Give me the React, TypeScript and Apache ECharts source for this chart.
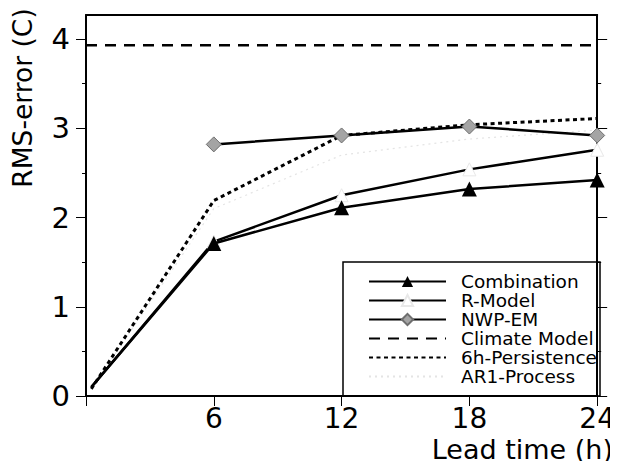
import React, { useEffect, useRef } from "react";
import * as echarts from "echarts";

const leads = [0.25, 6, 12, 18, 24];
const combination = [0.1, 1.71, 2.11, 2.32, 2.42];
const rModel = [0.1, 1.73, 2.25, 2.54, 2.76];
const nwpEm = [null, 2.82, 2.92, 3.02, 2.92];
const climateLeads = [0, 24];
const climate = [3.93, 3.93];
const persistence = [0.08, 2.19, 2.92, 3.04, 3.11];
const ar1 = [0.08, 2.1, 2.7, 2.88, 2.98];
const xLabels = [6, 12, 18, 24];
const yTicks = [0, 1, 2, 3, 4];
const seriesNames = ["Combination", "R-Model", "NWP-EM", "Climate Model", "6h-Persistence", "AR1-Process"];
const noSymbolInLegend = ["Climate Model", "6h-Persistence", "AR1-Process"];

const FONT = "DejaVu Sans, Liberation Sans, Arial, sans-serif";

function pairs(xs: number[], ys: (number | null)[], markedFrom = 0) {
  return xs.map((x, i) =>
    i < markedFrom ? { value: [x, ys[i]], symbol: "none" } : { value: [x, ys[i]] }
  );
}

export default function App() {
  const ref = useRef<HTMLDivElement>(null);
  useEffect(() => {
    if (!ref.current) return;
    const chart = echarts.init(ref.current, null, { renderer: "svg" });
    const yMax = 4.27;
    const base = {
      type: "line",
      xAxisIndex: 0,
      yAxisIndex: 0,
      clip: true,
      connectNulls: false,
    };
    chart.setOption({
      animation: false,
      backgroundColor: "#ffffff",
      grid: { left: 86, right: 18, top: 15, bottom: 73, containLabel: false },
      xAxis: [
        {
          type: "value",
          min: 0,
          max: 24,
          interval: 6,
          axisLine: { show: true, onZero: false, lineStyle: { color: "#000", width: 2 } },
          axisTick: { show: true, length: 10, inside: false, lineStyle: { color: "#000", width: 1 } },
          axisLabel: {
            customValues: xLabels,
            color: "#000",
            fontSize: 28,
            fontFamily: FONT,
            margin: 8,
          },
          splitLine: { show: false },
        },
        {
          type: "value",
          position: "top",
          min: 0,
          max: 24,
          interval: 6,
          axisLine: { show: true, onZero: false, lineStyle: { color: "#000", width: 2 } },
          axisTick: { show: false },
          axisLabel: { show: false },
          splitLine: { show: false },
        },
      ],
      yAxis: [
        {
          type: "value",
          min: 0,
          max: yMax,
          interval: 1,
          axisLine: { show: true, onZero: false, lineStyle: { color: "#000", width: 2 } },
          axisTick: { show: true, customValues: yTicks, length: 10, lineStyle: { color: "#000", width: 1 } },
          minorTick: { show: true, splitNumber: 2, length: 4, lineStyle: { color: "#000", width: 1 } },
          axisLabel: {
            customValues: yTicks,
            color: "#000",
            fontSize: 29,
            fontFamily: FONT,
            margin: 16,
          },
          splitLine: { show: false },
        },
        {
          type: "value",
          position: "right",
          min: 0,
          max: yMax,
          interval: 1,
          axisLine: { show: true, onZero: false, lineStyle: { color: "#000", width: 2 } },
          axisTick: { show: true, customValues: yTicks, length: 10, lineStyle: { color: "#000", width: 1 } },
          minorTick: { show: true, splitNumber: 2, length: 4, lineStyle: { color: "#000", width: 1 } },
          axisLabel: { show: false },
          splitLine: { show: false },
        },
      ],
      legend: {
        orient: "vertical",
        left: 368,
        top: 272,
        padding: 0,
        itemWidth: 77,
        itemHeight: 14,
        itemGap: 0,
        data: seriesNames.map((n) =>
          noSymbolInLegend.indexOf(n) >= 0 ? { name: n, itemStyle: { opacity: 0 } } : { name: n }
        ),
        textStyle: {
          color: "#000",
          fontSize: 18.5,
          fontFamily: FONT,
          padding: [0, 0, 0, 10],
        },
      },
      graphic: [
        {
          type: "rect",
          shape: { x: 343, y: 262, width: 257, height: 134 },
          style: { fill: "none", stroke: "#000", lineWidth: 1.5 },
          z: 1,
        },
        {
          type: "text",
          x: 22,
          y: 98,
          rotation: Math.PI / 2,
          style: {
            text: "RMS-error (C)",
            fontSize: 26.5,
            fontFamily: FONT,
            fill: "#000",
            align: "center",
            verticalAlign: "middle",
          },
        },
        {
          type: "text",
          x: 613,
          y: 449,
          style: {
            text: "Lead time (h)",
            fontSize: 27,
            fontFamily: FONT,
            fill: "#000",
            align: "right",
            verticalAlign: "middle",
          },
        },
      ],
      series: [
        {
          ...base,
          name: "AR1-Process",
          data: pairs(leads, ar1, 5),
          showSymbol: false,
          symbol: "none",
          lineStyle: { color: "#e4e4e4", width: 1.2, type: [2, 4] },
          itemStyle: { color: "#e4e4e4" },
          z: 2,
        },
        {
          ...base,
          name: "Climate Model",
          data: pairs(climateLeads, climate, 2),
          symbol: "none",
          lineStyle: { color: "#000", width: 2.5, type: [11, 8] },
          itemStyle: { color: "#000" },
          z: 3,
        },
        {
          ...base,
          name: "6h-Persistence",
          data: pairs(leads, persistence, 5),
          symbol: "none",
          lineStyle: { color: "#000", width: 3, type: [4, 3.5] },
          itemStyle: { color: "#000" },
          z: 3,
        },
        {
          ...base,
          name: "R-Model",
          data: pairs(leads, rModel, 1),
          symbol: "triangle",
          symbolSize: 13,
          showSymbol: true,
          lineStyle: { color: "#000", width: 2.5 },
          itemStyle: { color: "#ffffff", borderColor: "#e8e8e8", borderWidth: 1 },
          z: 4,
        },
        {
          ...base,
          name: "NWP-EM",
          data: pairs(leads, nwpEm, 1),
          symbol: "diamond",
          symbolSize: 15,
          showSymbol: true,
          lineStyle: { color: "#000", width: 2.5 },
          itemStyle: { color: "#a4a4a4", borderColor: "#6e6e6e", borderWidth: 1 },
          z: 5,
        },
        {
          ...base,
          name: "Combination",
          data: pairs(leads, combination, 1),
          symbol: "triangle",
          symbolSize: 15,
          showSymbol: true,
          lineStyle: { color: "#000", width: 2.5 },
          itemStyle: { color: "#000" },
          z: 6,
        },
      ],
    });
    return () => chart.dispose();
  }, []);
  return <div ref={ref} style={{ width: 618, height: 469, margin: -8, background: "#fff" }} />;
}
